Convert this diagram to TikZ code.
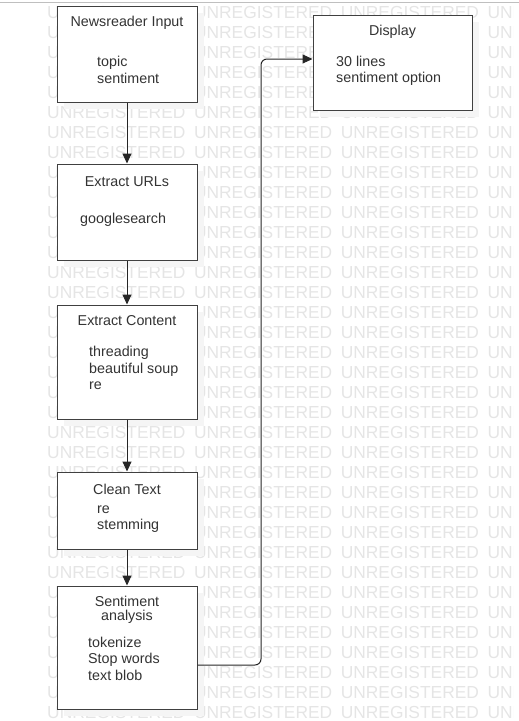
\documentclass[tikz,border=0pt]{standalone}
\usepackage{fontspec}
\setmainfont{Liberation Sans}
\usetikzlibrary{arrows.meta,shadows}

\begin{document}
\begin{tikzpicture}[x=1pt,y=-1pt]
	\tikzset{edge/.style = {-{Triangle[length=10pt,width=9pt]}, line width=1pt, draw=black!85}}
	\tikzset{box/.style = {draw=black!75, line width=1pt, fill=white, minimum width=140pt, inner sep=0pt,
		drop shadow={shadow xshift=7pt, shadow yshift=-7pt, fill=black!4, opacity=1}}}
	\tikzset{title/.style = {font=\fontsize{14.3}{14}\selectfont, text=black!80, align=center, inner sep=0pt}}
	\tikzset{body/.style = {font=\fontsize{14.3}{16.5}\selectfont, text=black!80, align=left, anchor=west, inner sep=0pt}}
	\tikzset{wm/.style = {font=\fontsize{17.4}{17.4}\selectfont, text=black!10, anchor=west, inner sep=0pt}}

	\useasboundingbox (0,0) rectangle (519,721);

	% watermark
	\begin{scope}
		\clip (0,0) rectangle (513,721);
		\foreach \r in {0,...,35}
			\foreach \c in {0,...,3}
				\node[wm] at (47+146.8*\c, 13+20*\r) {UNREGISTERED};
	\end{scope}
	\draw[black!25] (0,2) -- (519,2);

	\node[box, minimum height=96pt] (inp) at (127,54) {};
	\node[box, minimum height=96pt] (urls) at (127,212) {};
	\node[box, minimum height=114pt] (cont) at (127,362) {};
	\node[box, minimum height=77pt] (clean) at (127,510.5) {};
	\node[box, minimum height=123pt] (sent) at (127,647.5) {};
	\node[box, minimum width=159pt, minimum height=95pt] (disp) at (392.5,62.5) {};

	\node[title] (inpt) at (127,23) {Newsreader Input};
	\node[body] (inpb) at (97,70) {topic\\sentiment};
	\node[title] (urlst) at (127,182) {Extract URLs};
	\node[body] (urlsb) at (80,220) {googlesearch};
	\node[title] (contt) at (127,321) {Extract Content};
	\node[body] (contb) at (89,368) {threading\\beautiful soup\\re};
	\node[title] (cleant) at (127,489) {Clean Text};
	\node[body] (cleanb) at (97,519) {re\\stemming};
	\node[title] (sentt) at (127,610) {Sentiment\\analysis};
	\node[body] (sentb) at (88,658.5) {tokenize\\Stop words\\text blob};
	\node[title] (dispt) at (392.5,32) {Display};
	\node[body] (dispb) at (336,71) {30 lines\\sentiment option};

	\coordinate (turn) at (261,59);

	\draw[edge] (inp) -- (urls);
	\draw[edge] (urls) -- (cont);
	\draw[edge] (cont) -- (clean);
	\draw[edge] (clean) -- (sent);
	\draw[edge, rounded corners=6pt] ([yshift=-17.5pt]sent.east) -| (turn) -- ([yshift=3.5pt]disp.west);
\end{tikzpicture}
\end{document}
